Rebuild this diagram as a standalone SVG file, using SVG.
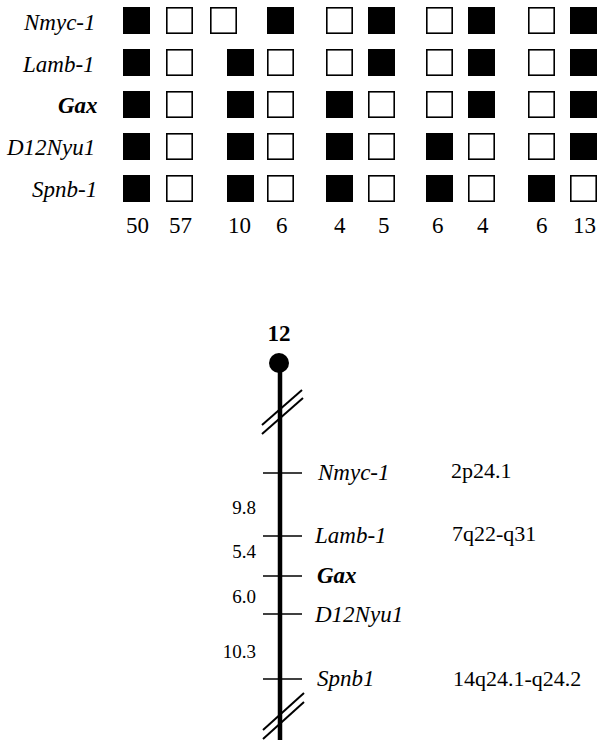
<svg xmlns="http://www.w3.org/2000/svg" width="600" height="740" viewBox="0 0 600 740">
  <style>
    .bg { fill: #ffffff; }
    .lbl { font-family: "Liberation Serif", "Times New Roman", serif; font-style: italic; font-size: 23px; fill: #000; }
    .bold { font-weight: bold; }
    .num { font-family: "Liberation Serif", "Times New Roman", serif; font-size: 23px; fill: #000; }
    .dist { font-family: "Liberation Serif", "Times New Roman", serif; font-size: 19px; fill: #000; text-anchor: end; }
    .band { font-family: "Liberation Serif", "Times New Roman", serif; font-size: 22px; fill: #000; }
    .on { fill: #000; }
    .off { fill: #fff; stroke: #000; stroke-width: 1.6; }
    .axis { stroke: #000; stroke-width: 4.5; fill: none; }
    .tick { stroke: #000; stroke-width: 1.6; fill: none; }
    .brk { stroke: #000; stroke-width: 2; fill: none; }
  </style>
  <defs>
    <rect id="sqOn" class="on" width="27" height="27"/>
    <rect id="sqOff" class="off" x="0.8" y="0.8" width="25.4" height="25.4"/>
  </defs>
  <rect class="bg" width="600" height="740"/>

  <!-- Haplotype table: locus labels -->
  <g id="haplotype-labels">
    <text class="lbl" x="24" y="30">Nmyc-1</text>
    <text class="lbl" x="23" y="72">Lamb-1</text>
    <text class="lbl bold" x="58" y="113">Gax</text>
    <text class="lbl" x="7" y="155">D12Nyu1</text>
    <text class="lbl" x="32" y="197">Spnb-1</text>
  </g>

  <!-- Haplotype table: allele squares, one row per locus -->
  <g id="row-nmyc1" transform="translate(0,7)">
    <use href="#sqOn" x="123"/><use href="#sqOff" x="166"/>
    <use href="#sqOff" x="210"/><use href="#sqOn" x="267"/>
    <use href="#sqOff" x="326"/><use href="#sqOn" x="368"/>
    <use href="#sqOff" x="426"/><use href="#sqOn" x="468"/>
    <use href="#sqOff" x="528"/><use href="#sqOn" x="570"/>
  </g>
  <g id="row-lamb1" transform="translate(0,49)">
    <use href="#sqOn" x="123"/><use href="#sqOff" x="166"/>
    <use href="#sqOn" x="227"/><use href="#sqOff" x="267"/>
    <use href="#sqOff" x="326"/><use href="#sqOn" x="368"/>
    <use href="#sqOff" x="426"/><use href="#sqOn" x="468"/>
    <use href="#sqOff" x="528"/><use href="#sqOn" x="570"/>
  </g>
  <g id="row-gax" transform="translate(0,91)">
    <use href="#sqOn" x="123"/><use href="#sqOff" x="166"/>
    <use href="#sqOn" x="227"/><use href="#sqOff" x="267"/>
    <use href="#sqOn" x="326"/><use href="#sqOff" x="368"/>
    <use href="#sqOff" x="426"/><use href="#sqOn" x="468"/>
    <use href="#sqOff" x="528"/><use href="#sqOn" x="570"/>
  </g>
  <g id="row-d12nyu1" transform="translate(0,133)">
    <use href="#sqOn" x="123"/><use href="#sqOff" x="166"/>
    <use href="#sqOn" x="227"/><use href="#sqOff" x="267"/>
    <use href="#sqOn" x="326"/><use href="#sqOff" x="368"/>
    <use href="#sqOn" x="426"/><use href="#sqOff" x="468"/>
    <use href="#sqOff" x="528"/><use href="#sqOn" x="570"/>
  </g>
  <g id="row-spnb1" transform="translate(0,175)">
    <use href="#sqOn" x="123"/><use href="#sqOff" x="166"/>
    <use href="#sqOn" x="227"/><use href="#sqOff" x="267"/>
    <use href="#sqOn" x="326"/><use href="#sqOff" x="368"/>
    <use href="#sqOn" x="426"/><use href="#sqOff" x="468"/>
    <use href="#sqOn" x="528"/><use href="#sqOff" x="570"/>
  </g>

  <!-- Haplotype counts -->
  <g id="counts">
    <text class="num" x="126" y="233">50</text>
    <text class="num" x="169" y="233">57</text>
    <text class="num" x="228" y="233">10</text>
    <text class="num" x="276" y="233">6</text>
    <text class="num" x="334" y="233">4</text>
    <text class="num" x="378" y="233">5</text>
    <text class="num" x="432" y="233">6</text>
    <text class="num" x="477" y="233">4</text>
    <text class="num" x="536" y="233">6</text>
    <text class="num" x="573" y="233">13</text>
  </g>

  <!-- Chromosome 12 linkage map -->
  <g id="chromosome">
    <text class="num bold" x="279" y="341" text-anchor="middle" font-size="22">12</text>
    <circle cx="279" cy="363" r="10" fill="#000"/>
    <line class="axis" x1="280" y1="363" x2="280" y2="740"/>
  </g>

  <g id="connectors">
    <!-- break marks -->
    <line class="brk" x1="262" y1="425" x2="302" y2="390"/>
    <line class="brk" x1="262" y1="434" x2="303" y2="398"/>
    <line class="brk" x1="263" y1="730" x2="304" y2="693"/>
    <line class="brk" x1="263" y1="739" x2="304" y2="702"/>
    <!-- locus ticks -->
    <line class="tick" x1="263" y1="473" x2="302" y2="473"/>
    <line class="tick" x1="263" y1="536" x2="302" y2="536"/>
    <line class="tick" x1="263" y1="576" x2="302" y2="576"/>
    <line class="tick" x1="263" y1="614" x2="302" y2="614"/>
    <line class="tick" x1="263" y1="679" x2="302" y2="679"/>
  </g>

  <g id="locus-nmyc1">
    <text class="lbl" x="318" y="480" font-size="22">Nmyc-1</text>
    <text class="band" x="451" y="478">2p24.1</text>
  </g>
  <g id="locus-lamb1">
    <text class="lbl" x="315" y="543" font-size="22">Lamb-1</text>
    <text class="band" x="452" y="541">7q22-q31</text>
  </g>
  <g id="locus-gax">
    <text class="lbl bold" x="317" y="583" font-size="22">Gax</text>
  </g>
  <g id="locus-d12nyu1">
    <text class="lbl" x="315" y="622" font-size="22">D12Nyu1</text>
  </g>
  <g id="locus-spnb1">
    <text class="lbl" x="317" y="686" font-size="22">Spnb1</text>
    <text class="band" x="453" y="686">14q24.1-q24.2</text>
  </g>

  <!-- Genetic distances (cM) -->
  <g id="distances">
    <text class="dist" x="256" y="514">9.8</text>
    <text class="dist" x="256" y="558">5.4</text>
    <text class="dist" x="256" y="603">6.0</text>
    <text class="dist" x="256" y="658">10.3</text>
  </g>
</svg>
